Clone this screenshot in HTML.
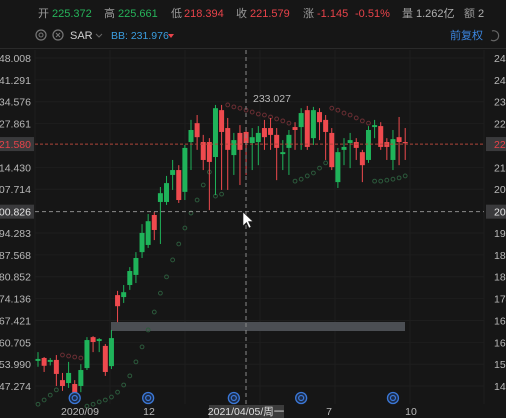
<!DOCTYPE html>
<html><head><meta charset="utf-8"><style>
body{margin:0;background:#161616;overflow:hidden;width:506px;height:418px;font-family:"Liberation Sans","Noto Sans CJK SC",sans-serif}
svg{display:block}
</style></head><body>
<svg id="c" width="506" height="418" viewBox="0 0 506 418">
<rect x="0" y="0" width="506" height="418" fill="#161616"/>
<g font-size="11">
<text x="38" y="17" fill="#9a9a9a">开</text><text x="52" y="17" fill="#26b35a">225.372</text>
<text x="104" y="17" fill="#9a9a9a">高</text><text x="118" y="17" fill="#26b35a">225.661</text>
<text x="171" y="17" fill="#9a9a9a">低</text><text x="184" y="17" fill="#e8434a">218.394</text>
<text x="236" y="17" fill="#9a9a9a">收</text><text x="250" y="17" fill="#e8434a">221.579</text>
<text x="303" y="17" fill="#9a9a9a">涨</text><text x="317" y="17" fill="#e8434a">-1.145</text><text x="355" y="17" fill="#e8434a">-0.51%</text>
<text x="402" y="17" fill="#9a9a9a">量</text><text x="416" y="17" fill="#b0b0b0">1.262亿</text>
<text x="464" y="17" fill="#9a9a9a">额</text><text x="478" y="17" fill="#b0b0b0">2</text>
</g>
<g>
<circle cx="41" cy="35" r="5" fill="none" stroke="#777" stroke-width="1.2"/>
<circle cx="41" cy="35" r="2" fill="none" stroke="#777" stroke-width="1"/>
<circle cx="58" cy="35" r="5" fill="none" stroke="#777" stroke-width="1.2"/>
<path d="M56 33 L60 37 M60 33 L56 37" stroke="#777" stroke-width="1"/>
<text x="70" y="39" font-size="11" fill="#cfcfcf">SAR</text>
<path d="M96 34 L99 37 L102 34" fill="none" stroke="#666" stroke-width="1"/>
<text x="111" y="39" font-size="10.5" fill="#3b9ee0">BB: 231.976</text>
<path d="M168 34 L174 34 L171 38 Z" fill="#e8434a"/>
<text x="450" y="39" font-size="11" fill="#3b86e0">前复权</text>
<path d="M492 31 A5 5 0 1 1 491 40" fill="none" stroke="#666" stroke-width="1.2"/>
</g>
<line x1="0" y1="48.5" x2="506" y2="48.5" stroke="#2a2a2a"/>
<g id="grid"></g>
<g id="axisL" font-size="10.5" fill="#b8b8b8"></g>
<g id="axisR" font-size="10.5" fill="#b8b8b8"></g>
<rect x="111" y="322" width="294" height="9" fill="#4b4e53"/>
<g id="sar"></g>
<g id="candles"></g>
<g id="overlay"></g>
<g font-size="10.5" fill="#b8b8b8">
<text x="80" y="415" text-anchor="middle">2020/09</text>
<text x="149" y="415" text-anchor="middle">12</text>
<rect x="209" y="405" width="75" height="13" fill="#3c3c3c"/>
<text x="246" y="415" text-anchor="middle" fill="#e0e0e0">2021/04/05/周一</text>
<text x="329" y="415" text-anchor="middle">7</text>
<text x="411" y="415" text-anchor="middle">10</text>
</g>
<g id="events"></g>
<path d="M243 212 L243 226 L246.5 222.5 L249 228 L251 227 L248.5 221.5 L253 221.5 Z" fill="#fff" stroke="#222" stroke-width="0.6"/>
</svg>
<script>
const ticks=[248.008,241.291,234.576,227.861,214.430,207.714,194.283,187.568,180.852,174.136,167.421,160.705,153.990,147.274];
const opens=[155.0,155.9,154.7,155.3,149.1,148.2,147.9,147.3,152.8,162.3,161.1,159.6,153.4,175.2,174.6,178.3,181.4,188.4,190.6,199.8,203.8,203.8,212.1,213.6,206.9,222.2,228.0,222.2,222.2,217.6,232.0,226.5,218.2,225.0,225.3,221.9,222.2,226.5,226.5,224.4,218.5,220.4,226.8,226.8,232.0,223.4,231.4,229.0,225.0,209.9,219.8,221.9,222.2,219.1,216.7,226.8,227.1,222.2,216.7,223.7,222.2];
const highs=[157.7,156.2,155.9,156.8,151.3,154.7,149.1,154.0,162.3,162.6,162.0,160.2,164.5,176.5,178.3,183.8,188.4,197.0,200.1,200.7,208.4,211.8,216.7,215.1,221.3,229.0,230.5,224.4,223.4,233.6,233.6,229.6,225.0,227.4,226.8,226.5,227.1,229.0,229.6,226.5,222.8,225.9,228.3,232.6,233.3,233.0,232.6,230.5,226.5,220.4,223.4,225.0,223.4,219.8,227.1,229.0,228.3,223.4,225.9,229.9,226.5];
const lows=[153.2,151.6,153.6,147.3,145.8,146.7,143.6,145.4,152.2,157.7,157.7,150.4,152.5,166.9,172.8,176.8,178.9,186.6,189.7,192.1,190.9,202.9,207.5,203.5,204.4,213.6,219.8,213.6,201.3,205.9,207.5,207.5,212.1,209.0,212.1,213.6,215.1,219.8,219.8,210.5,213.6,212.1,219.8,219.8,219.8,221.3,222.8,216.7,213.6,208.1,215.1,214.2,216.7,209.9,215.8,223.4,219.8,216.7,213.6,215.1,216.7];
const closes=[155.6,153.5,155.3,151.0,147.3,151.3,144.8,152.2,161.4,160.8,161.7,151.6,162.0,171.8,176.1,182.6,186.6,194.3,197.9,195.2,206.5,209.6,213.6,204.4,220.4,225.9,223.7,216.7,216.1,232.6,225.3,219.8,222.8,219.8,221.9,223.7,225.0,223.7,224.4,220.4,219.1,224.4,225.9,231.1,220.7,232.0,228.3,225.3,214.5,219.1,220.7,222.8,220.4,215.1,225.9,227.4,220.7,220.7,223.1,222.2,221.9];
const sar=[141.7,143.0,144.5,146.1,156.8,156.5,156.2,155.9,141.1,141.7,142.4,143.0,143.9,145.4,147.6,150.4,154.7,159.3,164.5,170.0,175.8,180.8,186.0,190.9,195.8,200.4,204.4,209.0,213.0,205.6,206.2,233.6,233.0,232.6,232.0,231.4,230.8,230.5,229.9,229.3,228.7,228.0,210.2,210.8,211.8,212.7,214.2,215.8,232.6,232.0,231.1,230.5,229.6,228.7,228.0,210.2,210.2,210.5,210.8,211.2,211.8];
const lastPrice=221.580, crossPrice=200.826, maxLabel=233.027;
const eventIdx=[6,18,32,43,58];

const NS="http://www.w3.org/2000/svg";
const TOP=248.008, PXPER=3.2567, X0=38, STEP=6.12;
const y=p=>58+(TOP-p)*PXPER;
const x=i=>X0+i*STEP;
function mk(tag,attrs,parent){const e=document.createElementNS(NS,tag);for(const k in attrs)e.setAttribute(k,attrs[k]);parent.appendChild(e);return e;}
const grid=document.getElementById('grid'),aL=document.getElementById('axisL'),aR=document.getElementById('axisR');
[35,110,185,260,335,410,484].forEach(gx=>{mk('line',{x1:gx,y1:50,x2:gx,y2:404,stroke:'#1f1f1f'},grid);});
ticks.forEach(t=>{
  const ty=y(t);
  mk('line',{x1:35,y1:ty,x2:484,y2:ty,stroke:'#1e1e1e'},grid);
  const l=mk('text',{x:31,y:ty+4,'text-anchor':'end'},aL);l.textContent=t.toFixed(3);
  
  
  const r=mk('text',{x:494,y:ty+4},aR);r.textContent=t.toFixed(3);
  
  
});
const sg=document.getElementById('sar');
sar.forEach((s,i)=>{
  const c=mk('circle',{cx:x(i),cy:y(s),r:1.9,fill:'none','stroke-width':1,stroke:s>closes[i]?'#6a2e33':'#2c5a3c'},sg);
  
  
});
const cg=document.getElementById('candles');
opens.forEach((o,i)=>{
  const c=closes[i],col=c>=o?'#1fb35a':'#ee4a4e';
  const g=mk('g',{},cg);
  
  
  mk('line',{x1:x(i),x2:x(i),y1:y(highs[i]),y2:y(lows[i]),stroke:col,'stroke-width':1},g);
  const t=y(Math.max(o,c)),b=y(Math.min(o,c));
  mk('rect',{x:x(i)-2.5,y:t,width:5,height:Math.max(1.2,b-t),fill:col},g);
});
const ov=document.getElementById('overlay');
const ly=y(lastPrice);
const pl=mk('line',{x1:35,x2:484,y1:ly,y2:ly,stroke:'#b0453a','stroke-dasharray':'3,2'},ov);


mk('rect',{x:0,y:ly-7,width:34,height:14,fill:'#3a3a3c'},ov);
let t=mk('text',{x:31,y:ly+4,'text-anchor':'end','font-size':10.5,fill:'#e8434a'},ov);t.textContent=lastPrice.toFixed(3);


mk('rect',{x:486,y:ly-7,width:20,height:14,fill:'#3a3a3c'},ov);
t=mk('text',{x:494,y:ly+4,'font-size':10.5,fill:'#e8434a'},ov);t.textContent=lastPrice.toFixed(3);
const cy=y(crossPrice);
const ch=mk('line',{x1:35,x2:484,y1:cy,y2:cy,stroke:'#8a8a8a','stroke-dasharray':'4,3'},ov);


const cv=mk('line',{x1:246,x2:246,y1:50,y2:405,stroke:'#8a8a8a','stroke-dasharray':'4,3'},ov);


mk('rect',{x:0,y:cy-7,width:34,height:14,fill:'#3a3a3c'},ov);
t=mk('text',{x:31,y:cy+4,'text-anchor':'end','font-size':10.5,fill:'#e6e6e6'},ov);t.textContent=crossPrice.toFixed(3);


mk('rect',{x:486,y:cy-7,width:20,height:14,fill:'#3a3a3c'},ov);
t=mk('text',{x:494,y:cy+4,'font-size':10.5,fill:'#e6e6e6'},ov);t.textContent=crossPrice.toFixed(3);
t=mk('text',{x:253,y:y(maxLabel)-5,'font-size':10.5,fill:'#b8b8b8'},ov);t.textContent=maxLabel.toFixed(3);


const ev=document.getElementById('events');
eventIdx.forEach(i=>{
  const g=mk('g',{},ev);
  
  
  mk('circle',{cx:x(i),cy:398,r:5.5,fill:'#1c2a44',stroke:'#3b78d8','stroke-width':1.3},g);
  mk('circle',{cx:x(i),cy:398,r:2.5,fill:'none',stroke:'#3b78d8','stroke-width':1.2},g);
});
</script>
</body></html>
